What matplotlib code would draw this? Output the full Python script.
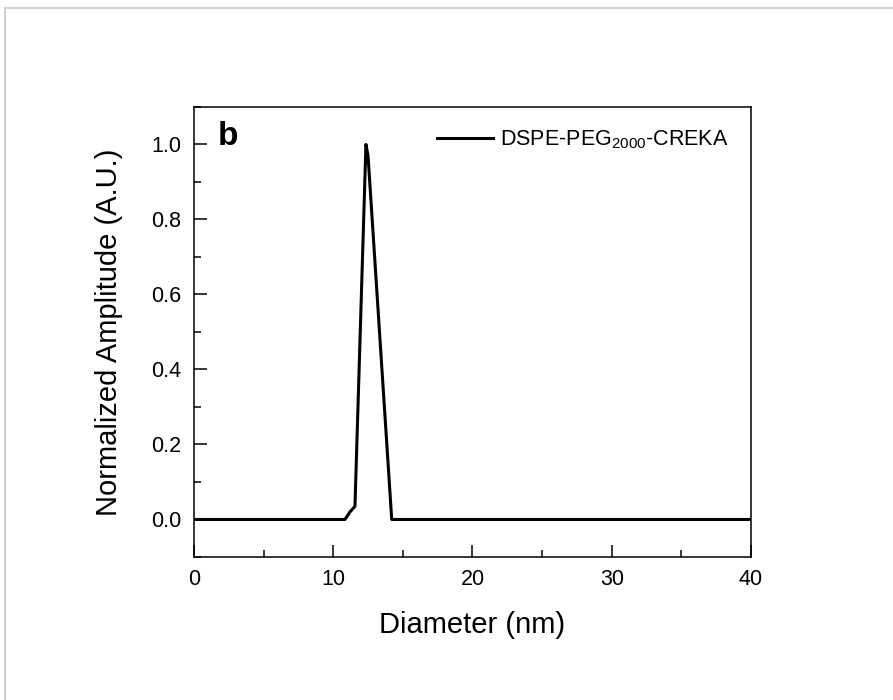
import matplotlib.pyplot as plt
from matplotlib.lines import Line2D
from matplotlib.ticker import MultipleLocator

plt.rcParams['font.family'] = ['Liberation Sans', 'DejaVu Sans']
plt.rcParams['mathtext.fontset'] = 'custom'
plt.rcParams['mathtext.rm'] = 'Liberation Sans'
plt.rcParams['mathtext.it'] = 'Liberation Sans:italic'
plt.rcParams['mathtext.bf'] = 'Liberation Sans:bold'

# size distribution
diametro_nm = [0, 10.84, 11.2, 11.56, 12.35, 12.5, 14.2, 40]
amplitude = [0, 0, 0.02, 0.035, 1.0, 0.97, 0.0, 0]
rotulo_serie = 'DSPE-PEG$_{2000}$-CREKA'
x_ticks = [0, 10, 20, 30, 40]
y_ticks = [0.0, 0.2, 0.4, 0.6, 0.8, 1.0]

fig = plt.figure(figsize=(8.93, 7), dpi=100)
ax = fig.add_axes([0.2172, 0.2043, 0.6238, 0.6429])

ax.plot(diametro_nm, amplitude, color='black', linewidth=2.2, label=rotulo_serie)

ax.set_xlim(0, 40)
ax.set_ylim(-0.1, 1.1)
ax.set_xticks(x_ticks)
ax.set_yticks(y_ticks)
ax.set_yticklabels([f'{v:.1f}' for v in y_ticks])
ax.xaxis.set_minor_locator(MultipleLocator(5))
ax.yaxis.set_minor_locator(MultipleLocator(0.1))

ax.tick_params(which='both', direction='in', width=1.1, labelsize=15.5,
               top=False, right=False)
ax.tick_params(which='major', length=9)
ax.tick_params(which='minor', length=5)
ax.tick_params(axis='x', pad=9)
ax.tick_params(axis='y', pad=9)
for s in ax.spines.values():
    s.set_linewidth(1.1)

ax.set_xlabel('Diameter (nm)', fontsize=21, labelpad=15)
ax.set_ylabel('Normalized Amplitude (A.U.)', fontsize=21, labelpad=20)

ax.text(0.043, 0.968, 'b', transform=ax.transAxes, fontsize=24,
        fontweight='bold', va='top', ha='left')

ax.legend(loc='upper right', frameon=False, fontsize=15.5, handlelength=2.6,
          handletextpad=0.3, borderaxespad=0.4, bbox_to_anchor=(0.99, 0.99))

# thin gray frame on top and left of the picture
fig.add_artist(Line2D([0.0056, 1.0], [0.9886, 0.9886], color='#c8c8c8', linewidth=1.2,
                      transform=fig.transFigure))
fig.add_artist(Line2D([0.0056, 0.0056], [0.0, 0.9886], color='#c8c8c8', linewidth=1.2,
                      transform=fig.transFigure))

fig.savefig('out.png', dpi=100)
